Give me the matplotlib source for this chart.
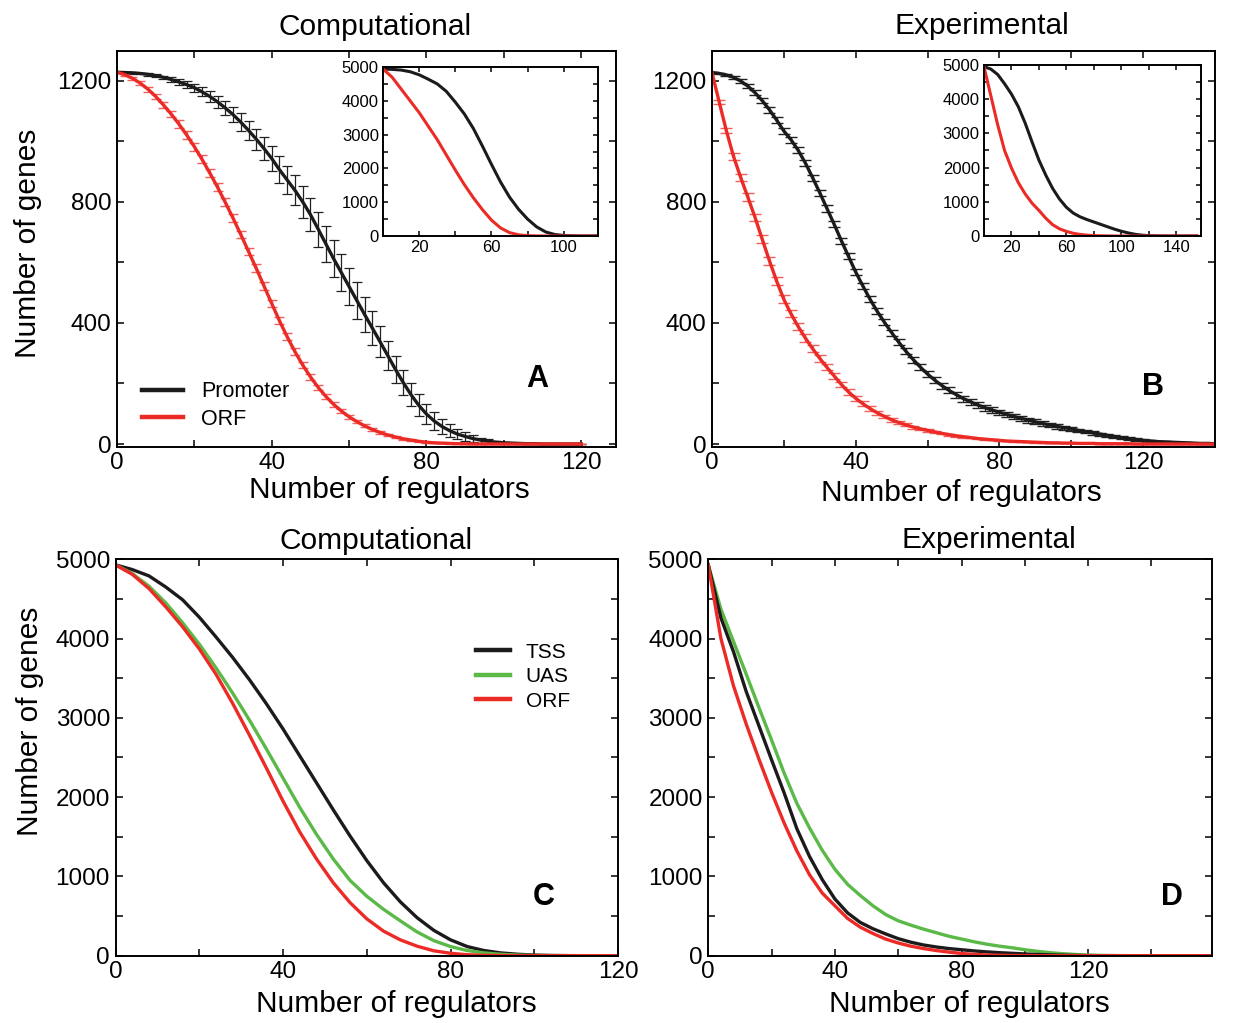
import numpy as np
import matplotlib
matplotlib.use("Agg")
import matplotlib.pyplot as plt
from matplotlib.ticker import FixedLocator

plt.rcParams['font.family'] = ['Liberation Sans', 'DejaVu Sans']

# ---- data ----
# panel A (computational, +- error), x = number of regulators
a_x = np.arange(0, 121, 2)
a_promoter = [1228, 1227, 1226, 1224, 1221, 1217, 1211, 1204, 1196, 1187,
              1177, 1163, 1148, 1130, 1110, 1088, 1063, 1036, 1007, 976,
              943, 906, 872, 838, 800, 758, 710, 661, 612, 566,
              520, 474, 428, 383, 338, 292, 246, 203, 163, 128,
              99, 76, 58, 44, 33, 25, 18, 13, 9, 6,
              4, 3, 2, 1, 1, 0, 0, 0, 0, 0,
              0]
a_promoter_err = [2, 2, 3, 3, 4, 5, 6, 7, 9, 11,
                  13, 15, 17, 20, 23, 26, 29, 32, 35, 38,
                  41, 44, 47, 50, 53, 56, 58, 60, 61, 61,
                  61, 60, 58, 55, 52, 48, 45, 42, 39, 36,
                  33, 29, 25, 21, 17, 14, 11, 8, 6, 4,
                  3, 2, 2, 1, 1, 0, 0, 0, 0, 0,
                  0]
a_orf = [1228, 1220, 1208, 1192, 1172, 1148, 1120, 1090, 1057, 1021,
         982, 940, 895, 848, 798, 746, 692, 636, 580, 522,
         464, 407, 354, 305, 261, 222, 187, 157, 131, 109,
         90, 74, 60, 48, 38, 30, 23, 17, 13, 9,
         6, 4, 3, 2, 1, 1, 0, 0, 0, 0,
         0, 0, 0, 0, 0, 0, 0, 0, 0, 0,
         0]
a_orf_err = [1, 3, 5, 7, 8, 9, 10, 11, 12, 12,
             13, 13, 13, 13, 13, 13, 13, 13, 13, 13,
             13, 12, 12, 11, 11, 10, 9, 9, 8, 7,
             7, 6, 5, 5, 4, 4, 3, 3, 2, 2,
             2, 1, 1, 1, 1, 0, 0, 0, 0, 0,
             0, 0, 0, 0, 0, 0, 0, 0, 0, 0,
             0]

# panel B (experimental, +- error)
b_x = np.arange(0, 141, 2)
b_promoter = [1227, 1224, 1219, 1211, 1199, 1182, 1160, 1134, 1104, 1070,
              1034, 1005, 970, 928, 880, 830, 778, 726, 672, 620,
              568, 522, 478, 438, 402, 368, 336, 306, 279, 254,
              231, 211, 193, 177, 163, 150, 139, 129, 120, 112,
              105, 98, 91, 85, 79, 73, 68, 63, 58, 54,
              50, 45, 41, 37, 33, 29, 25, 21, 18, 15,
              12, 10, 8, 7, 6, 5, 4, 3, 2, 2,
              1]
b_promoter_err = [2, 3, 4, 5, 6, 7, 8, 8, 9, 9,
                  10, 10, 10, 10, 10, 10, 10, 10, 10, 10,
                  10, 10, 10, 10, 10, 10, 10, 10, 10, 10,
                  10, 10, 10, 10, 10, 10, 10, 10, 10, 10,
                  9, 9, 9, 9, 8, 8, 8, 8, 7, 7,
                  7, 6, 6, 6, 5, 5, 5, 4, 4, 4,
                  3, 3, 3, 2, 2, 2, 2, 1, 1, 1,
                  1]
b_orf = [1227, 1130, 1035, 950, 880, 815, 748, 676, 605, 538,
         478, 430, 388, 350, 315, 283, 253, 225, 197, 172,
         151, 133, 117, 103, 91, 80, 71, 63, 56, 50,
         45, 40, 35, 31, 27, 24, 21, 18, 16, 14,
         12, 10, 9, 8, 7, 6, 5, 4, 4, 3,
         3, 2, 2, 2, 1, 1, 1, 1, 1, 0,
         0, 0, 0, 0, 0, 0, 0, 0, 0, 0,
         0]
b_orf_err = [2, 6, 9, 11, 12, 13, 13, 13, 13, 13,
             13, 12, 12, 12, 11, 11, 10, 10, 9, 9,
             8, 8, 7, 7, 6, 6, 5, 5, 5, 4,
             4, 4, 3, 3, 3, 3, 2, 2, 2, 2,
             2, 1, 1, 1, 1, 1, 1, 1, 1, 1,
             1, 0, 0, 0, 0, 0, 0, 0, 0, 0,
             0, 0, 0, 0, 0, 0, 0, 0, 0, 0,
             0]

# insets (all genes)
ia_x = np.arange(0, 121, 5)
ia_promoter = [4940, 4930, 4910, 4860, 4770, 4640, 4500, 4280, 3960, 3610,
               3180, 2660, 2120, 1600, 1150, 790, 500, 270, 120, 45,
               15, 5, 0, 0, 0]
ia_orf = [4940, 4700, 4350, 4000, 3650, 3250, 2850, 2400, 1950, 1520,
          1130, 780, 470, 240, 100, 35, 10, 3, 0, 0,
          0, 0, 0, 0, 0]
ib_x = np.arange(0, 156, 5)
ib_promoter = [4950, 4880, 4720, 4450, 4150, 3780, 3300, 2750, 2220, 1780,
               1390, 1080, 840, 670, 560, 480, 410, 340, 270, 200,
               140, 90, 50, 25, 10, 5, 0, 0, 0, 0,
               0, 0]
ib_orf = [4950, 4100, 3250, 2500, 1990, 1560, 1230, 960, 750, 520,
          330, 210, 135, 80, 45, 25, 12, 6, 3, 0,
          0, 0, 0, 0, 0, 0, 0, 0, 0, 0,
          0, 0]

# panel C (computational, TSS / UAS / ORF)
c_x = np.arange(0, 121, 4)
c_tss = [4930, 4870, 4790, 4650, 4490, 4270, 4020, 3760, 3480, 3180,
         2860, 2520, 2180, 1840, 1510, 1200, 920, 680, 480, 320,
         200, 115, 65, 35, 18, 8, 3, 1, 0, 0,
         0]
c_uas = [4930, 4820, 4660, 4450, 4200, 3930, 3630, 3310, 2970, 2610,
         2240, 1870, 1530, 1220, 950, 750, 585, 440, 300, 190,
         115, 65, 35, 18, 8, 3, 1, 0, 0, 0,
         0]
c_orf = [4930, 4810, 4630, 4400, 4150, 3870, 3550, 3180, 2780, 2370,
         1950, 1560, 1220, 920, 670, 465, 310, 200, 120, 62,
         30, 12, 5, 2, 0, 0, 0, 0, 0, 0,
         0]

# panel D (experimental, TSS / UAS / ORF)
d_x = np.arange(0, 161, 4)
d_tss = [4930, 4260, 3830, 3330, 2900, 2470, 2050, 1600, 1250, 960,
         715, 540, 420, 340, 275, 215, 170, 135, 110, 90,
         75, 60, 48, 38, 30, 22, 15, 10, 6, 3,
         1, 0, 0, 0, 0, 0, 0, 0, 0, 0,
         0]
d_uas = [4930, 4370, 3960, 3550, 3130, 2720, 2300, 1920, 1610, 1330,
         1090, 900, 760, 630, 520, 440, 385, 335, 290, 245,
         210, 175, 145, 120, 100, 75, 55, 38, 25, 15,
         8, 4, 2, 0, 0, 0, 0, 0, 0, 0,
         0]
d_orf = [4930, 4000, 3400, 2920, 2480, 2060, 1670, 1320, 1020, 790,
         630, 470, 360, 280, 210, 160, 120, 90, 65, 45,
         28, 16, 9, 5, 2, 1, 0, 0, 0, 0,
         0, 0, 0, 0, 0, 0, 0, 0, 0, 0,
         0]

black = '#1c1a1b'
red = '#ec2a26'
green = '#5bb947'
red_err = '#ef5f5c'
black_err = '#222222'

fig = plt.figure(figsize=(12.38, 10.23), dpi=100)
fig.patch.set_facecolor('white')


def style_axes(ax, xmajor, xminor, ymajor, yminor, size):
    ax.xaxis.set_major_locator(FixedLocator(xmajor))
    ax.xaxis.set_minor_locator(FixedLocator(xminor))
    ax.yaxis.set_major_locator(FixedLocator(ymajor))
    ax.yaxis.set_minor_locator(FixedLocator(yminor))
    ax.tick_params(which='both', direction='in', top=True, right=True,
                   length=5, width=1.1, labelsize=size, pad=4)
    for s in ax.spines.values():
        s.set_linewidth(1.4)


def labels(ax, title, tx, ty, letter, lx, ly, xl, yl=None):
    ax.text(tx, ty, title, transform=ax.transAxes, ha='center', va='center', fontsize=21.5)
    ax.text(lx, ly, letter, transform=ax.transAxes, ha='center', va='center',
            fontsize=22, fontweight='bold')
    ax.set_xlabel('Number of regulators', fontsize=21.5)
    ax.xaxis.label.set_va('center')
    ax.xaxis.set_label_coords(xl[0], xl[1])
    if yl is not None:
        ax.set_ylabel('Number of genes', fontsize=21.5)
        ax.yaxis.label.set_va('center')
        ax.yaxis.set_label_coords(yl[0], yl[1])


# ---- A ----
axA = fig.add_axes([0.0945, 0.5633, 0.4031, 0.3868])
axA.errorbar(a_x, a_promoter, yerr=a_promoter_err, fmt='none', ecolor=black_err,
             elinewidth=0.9, capsize=3.4, capthick=0.9)
axA.errorbar(a_x, a_orf, yerr=a_orf_err, fmt='none', ecolor=red_err,
             elinewidth=0.9, capsize=3.8, capthick=1.0)
axA.plot(a_x, a_promoter, color=black, lw=2.4, label='Promoter')
axA.plot(a_x, a_orf, color=red, lw=2.4, label='ORF')
axA.set_xlim(0, 129)
axA.set_ylim(-9, 1298)
style_axes(axA, [0, 40, 80, 120], [20, 60, 100], [0, 400, 800, 1200], [200, 600, 1000], 17.5)
leg = axA.legend(loc='upper left', bbox_to_anchor=(0.05, 0.166), frameon=False,
                 fontsize=15.5, handlelength=1.9, handletextpad=0.85,
                 labelspacing=0.3, borderpad=0, borderaxespad=0)
for h in leg.get_lines():
    h.set_linewidth(3.2)
labels(axA, 'Computational', 0.517, 1.061, 'A', 0.842, 0.171, (0.545, -0.109), (-0.178, 0.515))

# ---- B ----
axB = fig.add_axes([0.5751, 0.5633, 0.4063, 0.3868])
axB.errorbar(b_x, b_promoter, yerr=b_promoter_err, fmt='none', ecolor=black_err,
             elinewidth=0.9, capsize=4.2, capthick=1.0)
axB.errorbar(b_x, b_orf, yerr=b_orf_err, fmt='none', ecolor=red_err,
             elinewidth=0.9, capsize=4.2, capthick=1.0)
axB.plot(b_x, b_promoter, color=black, lw=2.4)
axB.plot(b_x, b_orf, color=red, lw=2.4)
axB.set_xlim(0, 140)
axB.set_ylim(-9, 1298)
style_axes(axB, [0, 40, 80, 120], [20, 60, 100, 140], [0, 400, 800, 1200], [200, 600, 1000], 17.5)
labels(axB, 'Experimental', 0.537, 1.063, 'B', 0.877, 0.151, (0.495, -0.117))

# ---- insets ----
inA = fig.add_axes([0.3094, 0.7693, 0.1737, 0.1652])
inA.plot(ia_x, ia_promoter, color=black, lw=2.2)
inA.plot(ia_x, ia_orf, color=red, lw=2.2)
inA.set_xlim(0, 119)
inA.set_ylim(0, 5000)
style_axes(inA, [20, 60, 100], [40, 80], [0, 1000, 2000, 3000, 4000, 5000],
           [500, 1500, 2500, 3500, 4500], 12)
inA.tick_params(which='both', length=3.5, pad=3)

inB = fig.add_axes([0.7948, 0.7693, 0.1753, 0.1672])
inB.plot(ib_x, ib_promoter, color=black, lw=2.2)
inB.plot(ib_x, ib_orf, color=red, lw=2.2)
inB.set_xlim(0, 158)
inB.set_ylim(0, 5000)
style_axes(inB, [20, 60, 100, 140], [40, 80, 120], [0, 1000, 2000, 3000, 4000, 5000],
           [500, 1500, 2500, 3500, 4500], 12)
inB.tick_params(which='both', length=3.5, pad=3)

# ---- C ----
axC = fig.add_axes([0.0933, 0.0658, 0.4059, 0.3875])
axC.plot(c_x, c_tss, color=black, lw=2.4, label='TSS')
axC.plot(c_x, c_uas, color=green, lw=2.4, label='UAS')
axC.plot(c_x, c_orf, color=red, lw=2.4, label='ORF')
axC.set_xlim(0, 120)
axC.set_ylim(0, 5000)
style_axes(axC, [0, 40, 80, 120], [20, 60, 100], [0, 1000, 2000, 3000, 4000, 5000],
           [500, 1500, 2500, 3500, 4500], 17.5)
leg = axC.legend(loc='upper left', bbox_to_anchor=(0.717, 0.79), frameon=False,
                 fontsize=15, handlelength=1.65, handletextpad=0.75,
                 labelspacing=0.27, borderpad=0, borderaxespad=0)
for h in leg.get_lines():
    h.set_linewidth(3.2)
labels(axC, 'Computational', 0.518, 1.046, 'C', 0.853, 0.148, (0.558, -0.122), (-0.170, 0.590))

# ---- D ----
axD = fig.add_axes([0.5721, 0.0658, 0.4066, 0.3875])
axD.plot(d_x, d_uas, color=green, lw=2.4)
axD.plot(d_x, d_tss, color=black, lw=2.4)
axD.plot(d_x, d_orf, color=red, lw=2.4)
axD.set_xlim(0, 159)
axD.set_ylim(0, 5000)
style_axes(axD, [0, 40, 80, 120, 160], [20, 60, 100, 140], [0, 1000, 2000, 3000, 4000, 5000],
           [500, 1500, 2500, 3500, 4500], 17.5)
labels(axD, 'Experimental', 0.558, 1.049, 'D', 0.921, 0.148, (0.518, -0.122))

fig.savefig('out.png', dpi=100, facecolor='white')
